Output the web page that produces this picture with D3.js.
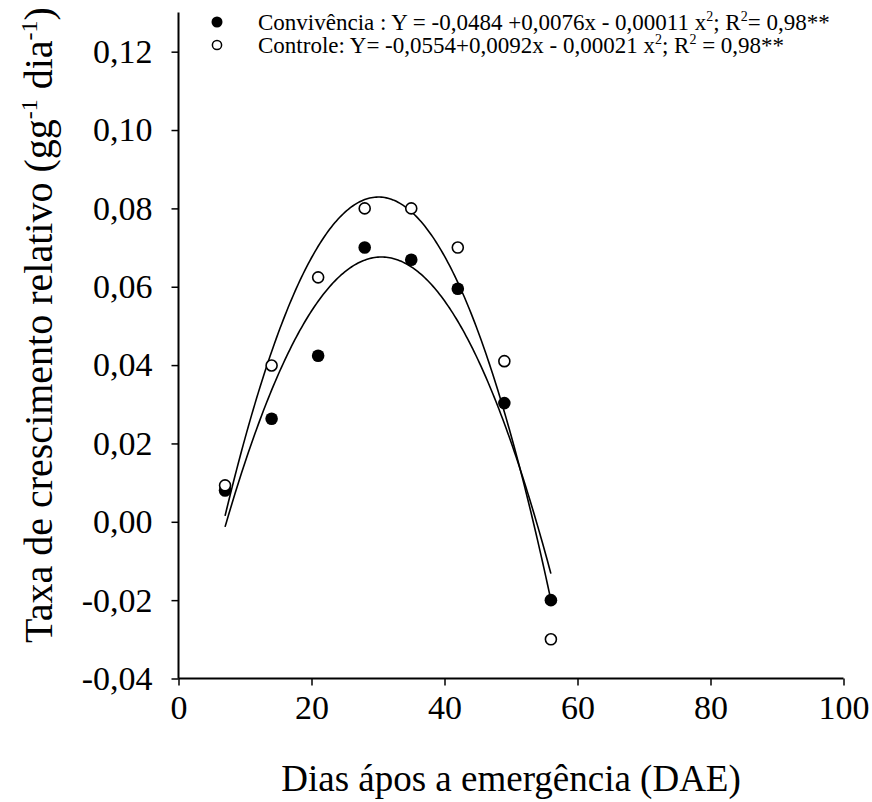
<!DOCTYPE html>
<html>
<head>
<meta charset="utf-8">
<script src="https://cdn.jsdelivr.net/npm/d3@7/dist/d3.min.js"></script>
<style>
  html, body { margin: 0; padding: 0; background: #fff; }
  svg { display: block; font-family: "Liberation Serif", "Times New Roman", serif; }
</style>
</head>
<body>
<svg id="chart" width="872" height="802"></svg>
<script>
// Sampling days (DAE)
const days = [7, 14, 21, 28, 35, 42, 49, 56];

// Relative growth rate (g g-1 dia-1)
const convivencia = [0.0080, 0.0263, 0.0424, 0.0700, 0.0669, 0.0595, 0.0303, -0.0200];
const controle    = [0.0093, 0.0399, 0.0624, 0.0800, 0.0800, 0.0700, 0.0410, -0.0300];

// Fitted quadratic curves [c0, c1, c2] as plotted
const convivenciaFit = [-0.0484, 0.0076, -0.0001245];
const controleFit    = [-0.0554, 0.0092, -0.000153];
const fitRange = [7, 56];

// Axis ticks
const xTicks = [0, 20, 40, 60, 80, 100];
const yTicks = [-0.04, -0.02, 0.00, 0.02, 0.04, 0.06, 0.08, 0.10, 0.12];

const svg = d3.select("#chart");

const x = d3.scaleLinear().domain([0, 100]).range([178.5, 843.5]);
const y = d3.scaleLinear().domain([-0.04, 0.13]).range([678.5, 12.5]);

const fmtY = v => d3.format(".2f")(v).replace(".", ",").replace("−", "-");

// X axis
const xAxis = svg.append("g")
  .attr("transform", `translate(0,${y(-0.04)})`)
  .call(d3.axisBottom(x).tickValues(xTicks).tickSize(7).tickPadding(9).tickFormat(d3.format("d")));
xAxis.select(".domain").attr("d", `M${x(0)},0H${x(100)}`);

// Y axis
const yAxis = svg.append("g")
  .attr("transform", `translate(${x(0)},0)`)
  .call(d3.axisLeft(y).tickValues(yTicks).tickSize(7).tickPadding(19).tickFormat(fmtY));
yAxis.select(".domain").attr("d", `M0,${y(-0.04)}V${y(0.13)}`);

[xAxis, yAxis].forEach(g => {
  g.select(".domain").attr("stroke", "#000").attr("stroke-width", 2).attr("fill", "none");
  g.selectAll(".tick line").attr("stroke", "#000").attr("stroke-width", 1.5);
  g.selectAll(".tick text")
    .attr("fill", "#000")
    .style("font-family", "'Liberation Serif', serif")
    .style("font-size", "34px");
});

// Axis titles
svg.append("text")
  .attr("x", (x(0) + x(100)) / 2)
  .attr("y", 791)
  .attr("text-anchor", "middle")
  .style("font-size", "37px")
  .text("Dias ápos a emergência (DAE)");

const yTitle = svg.append("text")
  .attr("transform", "translate(52,325) rotate(-90)")
  .attr("text-anchor", "middle")
  .style("font-size", "40px");
yTitle.append("tspan").text("Taxa de crescimento relativo  (gg");
yTitle.append("tspan").attr("dy", -15).style("font-size", "24px").text("-1");
yTitle.append("tspan").attr("dy", 15).text(" dia");
yTitle.append("tspan").attr("dy", -15).style("font-size", "24px").text("-1");
yTitle.append("tspan").attr("dy", 15).text(")");

// Fitted curves
const poly = (c, t) => c[0] + c[1] * t + c[2] * t * t;
const curveX = d3.range(fitRange[0], fitRange[1] + 0.001, 0.25);
const line = d3.line().x(d => x(d[0])).y(d => y(d[1]));

[controleFit, convivenciaFit].forEach(c => {
  svg.append("path")
    .datum(curveX.map(t => [t, poly(c, t)]))
    .attr("d", line)
    .attr("fill", "none")
    .attr("stroke", "#000")
    .attr("stroke-width", 1.6);
});

// Data points
svg.append("g").selectAll("circle")
  .data(days.map((d, i) => [d, convivencia[i]]))
  .join("circle")
  .attr("cx", d => x(d[0]))
  .attr("cy", d => y(d[1]))
  .attr("r", 6.3)
  .attr("fill", "#000");

svg.append("g").selectAll("circle")
  .data(days.map((d, i) => [d, controle[i]]))
  .join("circle")
  .attr("cx", d => x(d[0]))
  .attr("cy", d => y(d[1]))
  .attr("r", 5.5)
  .attr("fill", "#fff")
  .attr("stroke", "#000")
  .attr("stroke-width", 1.6);

// Legend
const legend = svg.append("g").style("font-size", "23px");

legend.append("circle").attr("cx", 217).attr("cy", 22).attr("r", 5.5).attr("fill", "#000");
legend.append("circle").attr("cx", 217).attr("cy", 45).attr("r", 4.6)
  .attr("fill", "#fff").attr("stroke", "#000").attr("stroke-width", 1.5);

// Each part is either plain text or ["sup", text] for a superscript
function legendLine(yPos, parts) {
  const t = legend.append("text").attr("x", 258).attr("y", yPos);
  let raised = false;
  parts.forEach(p => {
    if (Array.isArray(p)) {
      t.append("tspan").attr("dy", -9).style("font-size", "14px").text(p[1]);
      raised = true;
    } else {
      t.append("tspan").attr("dy", raised ? 9 : 0).text(p);
      raised = false;
    }
  });
}

legendLine(30, ["Convivência : Y = -0,0484 +0,0076x - 0,00011 x", ["sup", "2"], "; R", ["sup", "2"], "= 0,98**"]);
legendLine(53, ["Controle: Y= -0,0554+0,0092x - 0,00021 x", ["sup", "2"], "; R", ["sup", "2"], " = 0,98**"]);
</script>
</body>
</html>
